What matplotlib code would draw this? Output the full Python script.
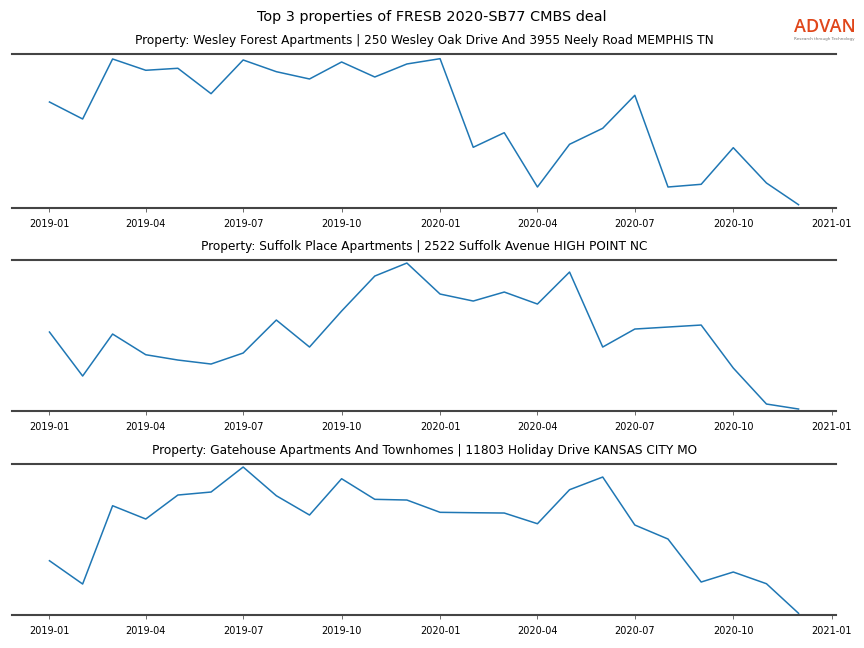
import matplotlib
matplotlib.use("Agg")
import matplotlib.pyplot as plt
import matplotlib.dates as mdates
import numpy as np
import pandas as pd

# monthly dates
months = pd.date_range("2019-01-01", "2020-12-01", freq="MS")

titles = [
    "Property: Wesley Forest Apartments | 250 Wesley Oak Drive And 3955 Neely Road MEMPHIS TN",
    "Property: Suffolk Place Apartments | 2522 Suffolk Avenue HIGH POINT NC",
    "Property: Gatehouse Apartments And Townhomes | 11803 Holiday Drive KANSAS CITY MO",
]

# visit levels (relative units)
wesley = [106, 89, 149, 137.7, 139.7, 114.3, 148, 136.3, 129, 146, 131, 144,
          149.3, 60.7, 75.3, 21, 63.7, 79.7, 112.7, 21, 23.7, 60.3, 25, 3.3]
suffolk = [79, 35, 77, 56.3, 51, 47, 58, 91, 64, 100, 135, 148,
           117, 110, 119, 107, 139, 64, 82, 84, 86, 43, 7, 2]
gatehouse = [54.3, 31, 109.3, 96, 120, 123, 148, 119.3, 100, 136.3, 115.7, 115,
             102.7, 102.3, 102, 91.3, 125.3, 138, 90, 76, 33, 43, 31.3, 1.7]

series = [wesley, suffolk, gatehouse]
ylims = [(0, 154), (0, 151), (0, 151)]

fig = plt.figure(figsize=(8.64, 6.48), dpi=100)
fig.suptitle("Top 3 properties of FRESB 2020-SB77 CMBS deal", fontsize=10.4, y=0.985)

# axes positions (left, bottom, width, height)
boxes = [
    [0.0139, 0.679, 0.9537, 0.2377],
    [0.0139, 0.3657, 0.9537, 0.233],
    [0.0139, 0.0509, 0.9537, 0.233],
]

for i in range(3):
    ax = fig.add_axes(boxes[i])
    ax.plot(months, series[i], color="#1f77b4", linewidth=1.1)
    ax.set_title(titles[i], fontsize=8.7, pad=7)
    ax.set_ylim(ylims[i])
    ax.set_yticks([])
    ax.spines["left"].set_visible(False)
    ax.spines["right"].set_visible(False)
    for s in ("top", "bottom"):
        ax.spines[s].set_color("#444444")
        ax.spines[s].set_linewidth(1.5)
    ax.xaxis.set_major_locator(mdates.MonthLocator(bymonth=[1, 4, 7, 10]))
    ax.xaxis.set_major_formatter(mdates.DateFormatter("%Y-%m"))
    ax.tick_params(axis="x", labelsize=7, length=3, width=0.6, color="#555555", pad=5)

# logo
fig.text(0.9545, 0.958, "ADVAN", color="#e0461a", fontsize=13, ha="center",
         va="center", family="Open Sans", fontweight="semibold")
fig.text(0.9545, 0.940, "Research through Technology", color="#777777", fontsize=3,
         ha="center", va="center")

fig.savefig("out.png", dpi=100)
